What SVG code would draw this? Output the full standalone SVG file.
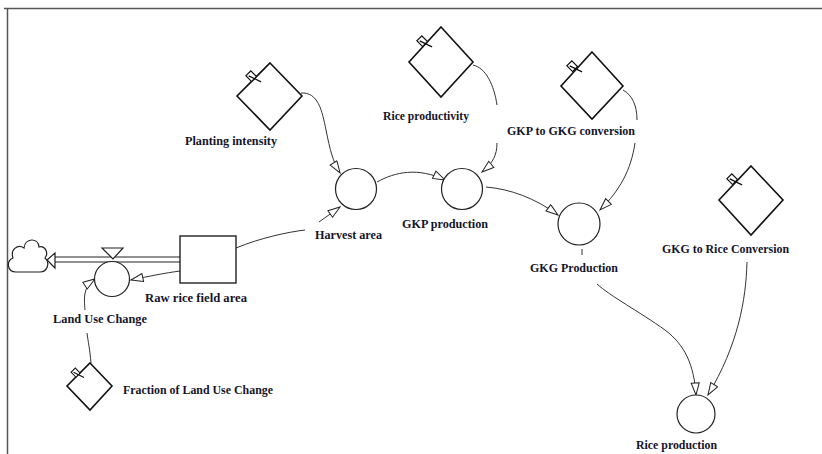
<svg xmlns="http://www.w3.org/2000/svg" xmlns:xlink="http://www.w3.org/1999/xlink" width="822" height="454" viewBox="0 0 822 454">
<style>
.frame{fill:none;stroke:#555;stroke-width:1.5}
.aux{fill:#fff;stroke:#222;stroke-width:1.2}
.const{fill:#fff;stroke:#111;stroke-width:1.6}
.stock{fill:#fff;stroke:#111;stroke-width:1.3}
.link{fill:none;stroke:#333;stroke-width:1}
.pipe{fill:none;stroke:#222;stroke-width:1.2}
.lbl{font-family:"Liberation Serif","DejaVu Serif",serif;font-weight:bold;font-size:12.5px;fill:#15152a}
</style>
<defs>
<marker id="arr" markerUnits="userSpaceOnUse" markerWidth="14" markerHeight="10" refX="13" refY="4.5" orient="auto">
<path d="M1,0.5 L13,4.5 L1,8.5 Z" fill="#fff" stroke="#222" stroke-width="1"/>
</marker>
<g id="flag">
<rect x="-3.5" y="-8" width="7" height="8" fill="#fff" stroke="#111" stroke-width="1.2"/>
<line x1="-1.5" y1="-6" x2="3" y2="7" stroke="#111" stroke-width="1.3"/>
</g>
</defs>
<rect width="822" height="454" fill="#fff"/>
<path class="frame" d="M4,8.5 H822 M7.5,8 V454"/>

<g id="connectors">
<path class="link" d="M301,93 C318,92 322,110 326,130 C330,150 333,162 340,173" marker-end="url(#arr)"/>
<path class="link" d="M236,248 C260,238 288,232 305,230"/>
<path class="link" d="M319,222 L340,207" marker-end="url(#arr)"/>
<path class="link" d="M377,182 C395,172 418,167 445,180" marker-end="url(#arr)"/>
<path class="link" d="M473,65 C486,68 494,85 497,105"/>
<path class="link" d="M497,143 C497,155 493,163 482,172" marker-end="url(#arr)"/>
<path class="link" d="M486,187 C510,189 535,198 558,215" marker-end="url(#arr)"/>
<path class="link" d="M623,90 C632,95 637,105 637,120"/>
<path class="link" d="M635,143 C631,170 620,190 600,210" marker-end="url(#arr)"/>
<path class="link" d="M582,249 L582,255"/>
<path class="link" d="M597,284 C610,296 640,312 665,330 C685,345 694,365 696,395" marker-end="url(#arr)"/>
<path class="link" d="M747,262 C746,300 738,345 708,395" marker-end="url(#arr)"/>
<path class="link" d="M180,271 C165,273 150,276 131,280" marker-end="url(#arr)"/>
<path class="link" d="M91,363 C90,350 88,341 87,333"/>
<path class="link" d="M85,310 C84,298 83,287 95,279" marker-end="url(#arr)"/>
</g>

<g id="cloud">
<path d="M16,272 C7,272 6,261 13,258 C10,249 18,244 24,248 C25,238 38,237 39,247 C45,245 49,253 45,258 C50,262 48,272 40,272 Z" fill="#fff" stroke="#222" stroke-width="1.2"/>
</g>

<g id="flow-land-use-change">
<path class="pipe" d="M55,257 H180 M55,262 H180"/>
<path d="M47,260 L55,253 L55,268 Z" fill="#fff" stroke="#222" stroke-width="1.2"/>
<path d="M102,248 L123,248 L113,259 Z" fill="#fff" stroke="#222" stroke-width="1.2"/>
<circle class="aux" cx="112" cy="279" r="17.5"/>
<text class="lbl" x="53" y="323" textLength="94" lengthAdjust="spacingAndGlyphs">Land Use Change</text>
</g>

<g id="stock-raw-rice-field-area">
<rect class="stock" x="180" y="236" width="56" height="47"/>
<text class="lbl" x="145" y="302" textLength="102" lengthAdjust="spacingAndGlyphs">Raw rice field area</text>
</g>

<g id="fraction-of-land-use-change">
<path class="const" d="M90,363 L112,386 L90,410 L67,386 Z"/>
<use xlink:href="#flag" transform="translate(78,375) rotate(-45) scale(0.85)"/>
<text class="lbl" x="123" y="394" textLength="150" lengthAdjust="spacingAndGlyphs">Fraction of Land Use Change</text>
</g>

<g id="planting-intensity">
<path class="const" d="M270,63 L302,96 L270,130 L237,96 Z"/>
<use xlink:href="#flag" transform="translate(254,79) rotate(-45)"/>
<text class="lbl" x="185" y="145" textLength="92" lengthAdjust="spacingAndGlyphs">Planting intensity</text>
</g>

<g id="harvest-area">
<circle class="aux" cx="356" cy="189" r="20.5"/>
<text class="lbl" x="315" y="239" textLength="67" lengthAdjust="spacingAndGlyphs">Harvest area</text>
</g>

<g id="rice-productivity">
<path class="const" d="M441,27 L473,62 L441,97 L409,62 Z"/>
<use xlink:href="#flag" transform="translate(425,44) rotate(-45)"/>
<text class="lbl" x="383" y="120" textLength="86" lengthAdjust="spacingAndGlyphs">Rice productivity</text>
</g>

<g id="gkp-production">
<circle class="aux" cx="462" cy="189" r="20.5"/>
<text class="lbl" x="402" y="228" textLength="86" lengthAdjust="spacingAndGlyphs">GKP production</text>
</g>

<g id="gkp-to-gkg-conversion">
<path class="const" d="M592,52 L623,86 L592,119 L561,86 Z"/>
<use xlink:href="#flag" transform="translate(575,69) rotate(-45)"/>
<text class="lbl" x="507" y="135" textLength="128" lengthAdjust="spacingAndGlyphs">GKP to GKG conversion</text>
</g>

<g id="gkg-production">
<circle class="aux" cx="579" cy="224" r="21"/>
<text class="lbl" x="530" y="272" textLength="88" lengthAdjust="spacingAndGlyphs">GKG Production</text>
</g>

<g id="gkg-to-rice-conversion">
<path class="const" d="M751,166 L783,200 L751,235 L719,200 Z"/>
<use xlink:href="#flag" transform="translate(735,182) rotate(-45)"/>
<text class="lbl" x="662" y="253" textLength="127" lengthAdjust="spacingAndGlyphs">GKG to Rice Conversion</text>
</g>

<g id="rice-production">
<circle class="aux" cx="696" cy="414" r="19"/>
<text class="lbl" x="636" y="449" textLength="81" lengthAdjust="spacingAndGlyphs">Rice production</text>
</g>
</svg>
